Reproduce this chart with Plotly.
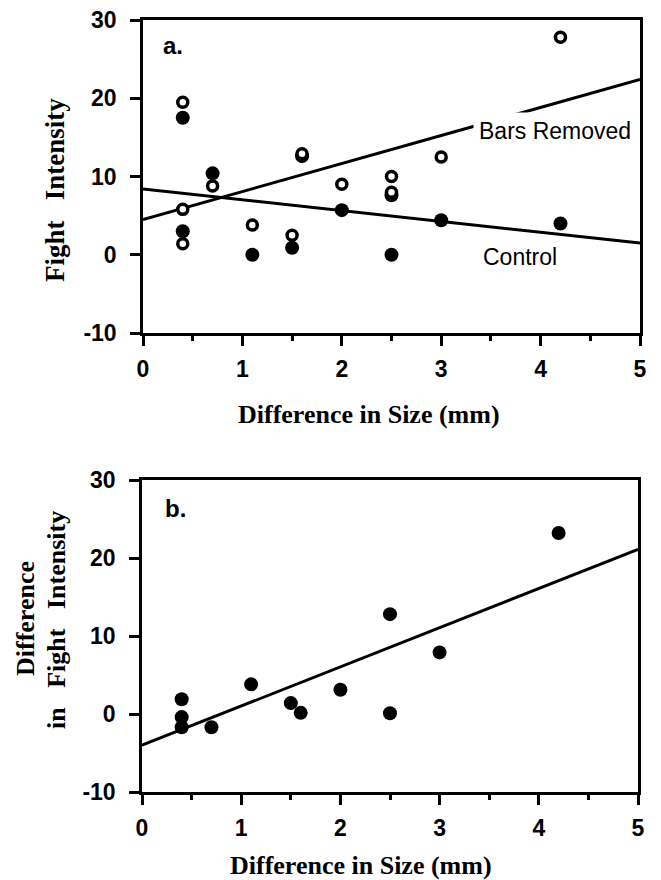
import numpy as np
import plotly.graph_objects as go

# ---------------- data ----------------
# Panel a: Bars Removed (open circles)
bars_x = [0.4, 0.4, 0.4, 0.7, 1.1, 1.5, 1.6, 2.0, 2.5, 2.5, 3.0, 4.2]
bars_y = [19.5, 5.8, 1.4, 8.8, 3.8, 2.5, 12.9, 9.0, 10.0, 8.0, 12.5, 27.8]
# Panel a: Control (filled circles)
ctrl_x = [0.4, 0.4, 0.7, 1.1, 1.5, 1.6, 2.0, 2.5, 2.5, 3.0, 4.2]
ctrl_y = [17.5, 3.0, 10.4, 0.0, 0.9, 12.6, 5.7, 0.0, 7.6, 4.4, 4.0]
# Panel b: difference in fight intensity
diff_x = [0.4, 0.4, 0.4, 0.7, 1.1, 1.5, 1.6, 2.0, 2.5, 2.5, 3.0, 4.2]
diff_y = [1.9, -0.4, -1.7, -1.7, 3.8, 1.4, 0.15, 3.1, 12.8, 0.1, 7.9, 23.2]

# regression lines: (intercept, slope)
bars_fit = (4.5, 3.58)
ctrl_fit = (8.4, -1.38)
diff_fit = (-4.0, 5.02)

x_range = [0, 5]
y_range = [-10, 30]
x_tickvals = [0, 1, 2, 3, 4, 5]
x_ticktext = ["0", "1", "2", "3", "4", "5"]
x_minor_step = 0.5
y_tickvals = [-10, 0, 10, 20, 30]
y_ticktext = ["-10", "0", "10", "20", "30"]

# ---------------- figure ----------------
W, H = 661, 880
def px(x):
    return x / W
def py(y):
    return 1 - y / H

fit_x = np.array(x_range, dtype=float)

fig = go.Figure()

LW = 3
# panel a lines
fig.add_trace(go.Scatter(x=fit_x, y=bars_fit[0] + bars_fit[1] * fit_x, mode="lines",
                         line=dict(color="black", width=LW), xaxis="x", yaxis="y"))
fig.add_trace(go.Scatter(x=fit_x, y=ctrl_fit[0] + ctrl_fit[1] * fit_x, mode="lines",
                         line=dict(color="black", width=LW), xaxis="x", yaxis="y"))
# panel a points
fig.add_trace(go.Scatter(x=ctrl_x, y=ctrl_y, mode="markers",
                         marker=dict(symbol="circle", size=14, color="black", line=dict(width=0)),
                         xaxis="x", yaxis="y"))
fig.add_trace(go.Scatter(x=bars_x, y=bars_y, mode="markers",
                         marker=dict(symbol="circle", size=10, color="white",
                                     line=dict(color="black", width=3.5)),
                         xaxis="x", yaxis="y"))
# panel b
fig.add_trace(go.Scatter(x=fit_x, y=diff_fit[0] + diff_fit[1] * fit_x, mode="lines",
                         line=dict(color="black", width=LW), xaxis="x2", yaxis="y2"))
fig.add_trace(go.Scatter(x=diff_x, y=diff_y, mode="markers",
                         marker=dict(symbol="circle", size=14, color="black", line=dict(width=0)),
                         xaxis="x2", yaxis="y2"))

tickfont = dict(family="Liberation Sans, Arial, sans-serif", size=23, color="black", weight="bold")

def xaxis_cfg(anchor, dom):
    return dict(domain=dom, anchor=anchor, range=x_range, tickmode="array",
                tickvals=x_tickvals, ticktext=x_ticktext, ticks="outside", ticklen=10,
                tickwidth=2.5, tickcolor="black", showline=True, linewidth=2.5,
                linecolor="black", mirror=True, showgrid=False, zeroline=False,
                minor=dict(tickmode="linear", tick0=0, dtick=x_minor_step, ticks="outside",
                           ticklen=5, tickwidth=2.5, tickcolor="black", showgrid=False),
                tickfont=tickfont, ticklabelstandoff=4, fixedrange=True, automargin=False)

def yaxis_cfg(anchor, dom):
    return dict(domain=dom, anchor=anchor, range=y_range, tickmode="array",
                tickvals=y_tickvals, ticktext=y_ticktext, ticks="outside", ticklen=10,
                tickwidth=2.5, tickcolor="black", showline=True, linewidth=2.5,
                linecolor="black", mirror=True, showgrid=False, zeroline=False,
                tickfont=tickfont, ticklabelstandoff=9, fixedrange=True, automargin=False)

fig.update_layout(
    width=W, height=H,
    autosize=False,
    margin=dict(l=0, r=0, t=0, b=0, pad=0, autoexpand=False),
    paper_bgcolor="white", plot_bgcolor="white",
    showlegend=False,
    xaxis=xaxis_cfg("y", [px(143), px(640)]),
    yaxis=yaxis_cfg("x", [py(333), py(20)]),
    xaxis2=xaxis_cfg("y2", [px(142), px(638)]),
    yaxis2=yaxis_cfg("x2", [py(792), py(480)]),
)

serif = dict(family="Liberation Serif, Times New Roman, serif", size=26, color="black", weight="bold")
serif_a = dict(family="Liberation Serif, Times New Roman, serif", size=27, color="black", weight="bold")
sans = dict(family="Liberation Sans, Arial, sans-serif", size=23, color="black")
sansb = dict(family="Liberation Sans, Arial, sans-serif", size=24, color="black", weight="bold")
sp = "\u00a0\u00a0\u00a0"

ann = [
    # panel labels
    dict(text="a.", x=0.30, y=26.7, xref="x", yref="y", showarrow=False, font=sansb),
    dict(text="b.", x=0.335, y=26.3, xref="x2", yref="y2", showarrow=False, font=sansb),
    # line labels
    dict(text="Bars Removed", x=4.14, y=15.8, xref="x", yref="y", showarrow=False,
         font=sans, bgcolor="white", borderpad=5),
    dict(text="Control", x=3.79, y=-0.3, xref="x", yref="y", showarrow=False, font=sans),
    # axis titles
    dict(text="Difference in Size (mm)", x=px(369), y=py(414), xref="paper", yref="paper",
         showarrow=False, font=serif, xanchor="center", yanchor="middle"),
    dict(text="Difference in Size (mm)", x=px(361), y=py(865), xref="paper", yref="paper",
         showarrow=False, font=serif, xanchor="center", yanchor="middle"),
    dict(text="Fight" + sp + "Intensity", x=px(55), y=py(190), xref="paper", yref="paper",
         showarrow=False, font=serif_a, textangle=-90, xanchor="center", yanchor="middle"),
    dict(text="Difference", x=px(25), y=py(619), xref="paper", yref="paper",
         showarrow=False, font=serif, textangle=-90, xanchor="center", yanchor="middle"),
    dict(text="in" + sp + "Fight" + sp + "Intensity", x=px(56), y=py(620), xref="paper", yref="paper",
         showarrow=False, font=serif, textangle=-90, xanchor="center", yanchor="middle"),
]
fig.update_layout(annotations=ann)

fig.write_html("out.html", config={"displayModeBar": False},
               post_script="document.body.style.margin='0';document.body.style.overflow='hidden';")
